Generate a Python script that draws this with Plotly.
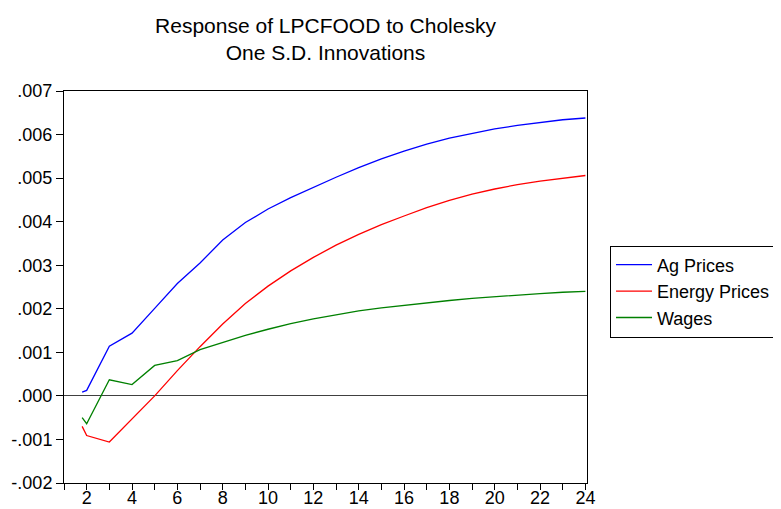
import plotly.graph_objects as go

periods = [1.8, 2, 3, 4, 5, 6, 7, 8, 9, 10, 11, 12, 13, 14, 15, 16, 17, 18, 19, 20, 21, 22, 23, 24]
ag_prices = [0.000087, 0.000126, 0.00114, 0.00144, 0.00201, 0.00258, 0.00305, 0.00358, 0.00398, 0.00429,
             0.00455, 0.00479, 0.00502, 0.00524, 0.00544, 0.00562, 0.00578, 0.00592, 0.00603, 0.00613,
             0.00621, 0.00628, 0.00634, 0.00638]
energy_prices = [-0.00070, -0.00091, -0.00106, -0.00054, 0.00000, 0.00058, 0.00113, 0.00165, 0.00212, 0.00252,
                 0.00287, 0.00318, 0.00346, 0.00371, 0.00393, 0.00413, 0.00432, 0.00449, 0.00463, 0.00475,
                 0.00485, 0.00493, 0.00500, 0.00506]
wages = [-0.00050, -0.00064, 0.00037, 0.00026, 0.00070, 0.00081, 0.00106, 0.00123, 0.00139, 0.00153,
         0.00166, 0.00177, 0.00186, 0.00195, 0.00202, 0.00208, 0.00214, 0.00219, 0.00224, 0.00228,
         0.00232, 0.00235, 0.00238, 0.00240]

series_names = ["Ag Prices", "Energy Prices", "Wages"]
y_tick_vals = [-0.002, -0.001, 0.0, 0.001, 0.002, 0.003, 0.004, 0.005, 0.006, 0.007]
y_tick_text = ["-.002", "-.001", ".000", ".001", ".002", ".003", ".004", ".005", ".006", ".007"]
x_tick_vals = list(range(1, 25))
x_tick_text = [str(v) if v % 2 == 0 else "" for v in x_tick_vals]

FONT = "Liberation Sans, Arial, sans-serif"

# The page body adds an 8px margin, so the figure is drawn 8px smaller
W, H = 773, 501
L, R, T, B = 56, 194, 83, 26

fig = go.Figure()
for name, vals, col in zip(series_names, [ag_prices, energy_prices, wages], ["#0000FF", "#FF0000", "#008000"]):
    fig.add_trace(go.Scatter(x=periods, y=vals, mode="lines", name=name,
                             line=dict(color=col, width=1.3)))

fig.update_layout(
    width=W, height=H,
    margin=dict(l=L, r=R, t=T, b=B, autoexpand=False),
    paper_bgcolor="white", plot_bgcolor="white",
    font=dict(family=FONT, size=18, color="black"),
    title=dict(text="Response of LPCFOOD to Cholesky<br>One S.D. Innovations",
               x=(L + (W - R)) / 2 / W, xanchor="center", y=0.95, yanchor="top",
               font=dict(family=FONT, size=21, color="black")),
    showlegend=True,
    legend=dict(x=1.044, xanchor="left", y=0.4885, yanchor="middle",
                bgcolor="white", bordercolor="black", borderwidth=1,
                font=dict(family=FONT, size=18, color="black"),
                tracegroupgap=0, itemwidth=36),
)
fig.update_xaxes(range=[1, 24.07], tickmode="array", tickvals=x_tick_vals, ticktext=x_tick_text,
                 ticks="outside", ticklen=6, tickcolor="black", showgrid=False, zeroline=False,
                 showline=True, linecolor="black", linewidth=1, mirror=True,
                 ticklabelstandoff=-8,
                 tickfont=dict(family=FONT, size=18, color="black"))
fig.update_yaxes(range=[-0.002, 0.007], tickmode="array", tickvals=y_tick_vals, ticktext=y_tick_text,
                 ticks="outside", ticklen=7, tickcolor="black", showgrid=False,
                 zeroline=True, zerolinecolor="#404040", zerolinewidth=1,
                 showline=True, linecolor="black", linewidth=1, mirror=True,
                 tickfont=dict(family=FONT, size=18, color="black"))

fig.write_html("out.html")
